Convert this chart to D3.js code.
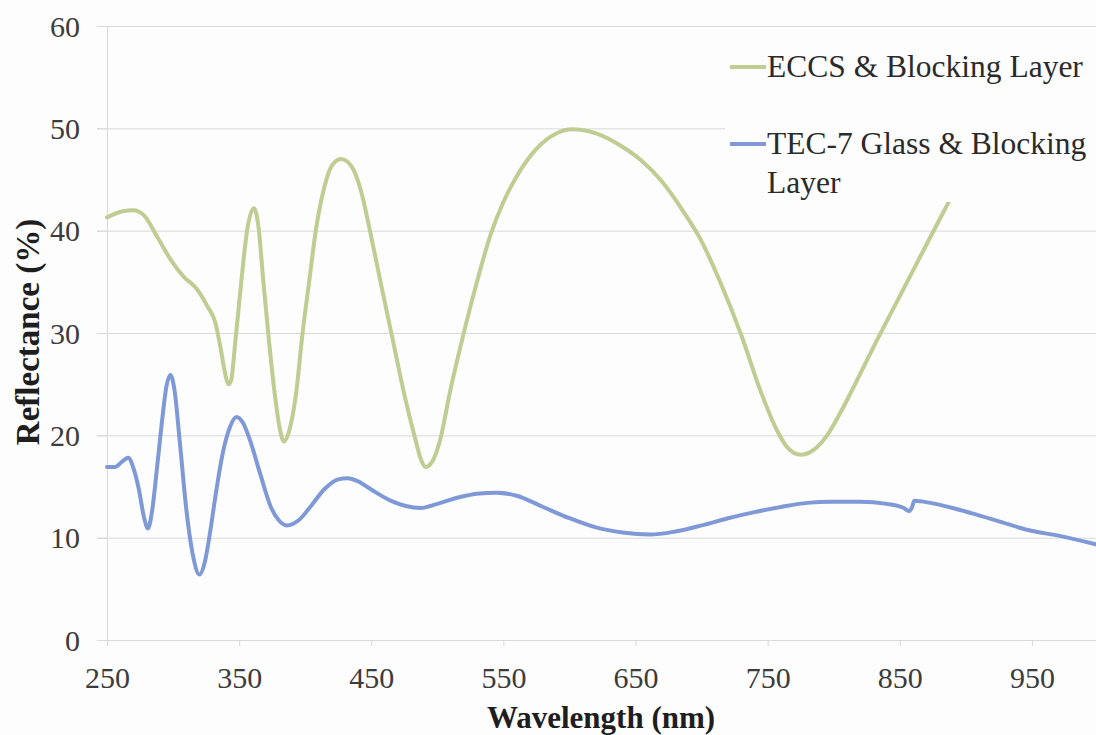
<!DOCTYPE html>
<html>
<head>
<meta charset="utf-8">
<script src="https://cdn.jsdelivr.net/npm/d3@7"></script>
<style>
  html, body { margin: 0; padding: 0; background: #fdfdfd; }
  svg { display: block; }
</style>
</head>
<body>
<svg id="chart" width="1096" height="735"></svg>
<script>
// Reflectance spectra (wavelength in nm, reflectance in %)
const eccsWavelength = [250, 262, 270, 278, 288, 298, 308, 318, 326, 332, 336, 339, 342, 344, 347, 352, 356, 361, 365, 368, 372, 377, 381, 384, 388, 393, 398, 403, 408, 414, 420, 427, 435, 442, 449, 457, 466, 475, 483, 488, 491, 496, 502, 510, 520, 530, 540, 550, 560, 575, 590, 602, 620, 640, 654, 670, 684, 699, 714, 730, 745, 757, 765, 775, 785, 795, 805, 815, 830, 850, 870, 885, 900];
const eccsReflectance = [41.3, 41.9, 42.0, 41.5, 39.4, 37.2, 35.5, 34.3, 32.6, 31.0, 28.5, 26.3, 25.0, 25.4, 29.0, 35.5, 40.0, 42.2, 40.0, 35.5, 30.0, 24.0, 20.5, 19.4, 20.5, 24.0, 30.0, 35.0, 40.0, 44.0, 46.3, 47.0, 46.3, 44.0, 40.0, 35.0, 29.5, 24.0, 19.8, 17.5, 16.9, 17.4, 19.5, 24.5, 30.0, 35.0, 39.5, 42.8, 45.3, 48.0, 49.5, 49.9, 49.5, 48.2, 46.9, 44.8, 42.3, 39.2, 35.0, 29.8, 24.2, 20.5, 18.8, 18.1, 18.6, 20.0, 22.2, 24.7, 28.6, 33.6, 38.6, 42.3, 46.0];

const tecWavelength = [250, 256, 262, 266, 270, 274, 278, 281, 284, 288, 292, 295, 298, 301, 305, 310, 315, 320, 324, 328, 332, 338, 343, 348, 353, 358, 366, 374, 380, 386, 395, 405, 415, 425, 432, 440, 450, 465, 487, 500, 515, 530, 545, 560, 580, 600, 620, 640, 661, 680, 700, 720, 740, 760, 780, 798, 820, 840, 853, 857, 859, 861, 873, 890, 904, 925, 947, 970, 1000];
const tecReflectance = [16.9, 16.9, 17.5, 17.8, 16.8, 14.8, 12.0, 10.9, 12.5, 17.0, 21.8, 24.8, 25.9, 24.5, 19.5, 12.8, 8.3, 6.4, 7.6, 10.5, 14.0, 18.5, 20.8, 21.8, 21.2, 19.6, 16.2, 13.0, 11.7, 11.2, 11.7, 13.2, 14.8, 15.7, 15.8, 15.5, 14.7, 13.6, 12.9, 13.3, 13.9, 14.3, 14.4, 14.1, 13.0, 11.9, 11.0, 10.5, 10.3, 10.6, 11.2, 11.9, 12.5, 13.0, 13.4, 13.5, 13.5, 13.3, 12.9, 12.6, 12.9, 13.6, 13.4, 12.9, 12.4, 11.6, 10.75, 10.2, 9.3];

const seriesNames = ["ECCS & Blocking Layer", "TEC-7 Glass & Blocking Layer"];
const xTickValues = [250, 350, 450, 550, 650, 750, 850, 950];
const yTickValues = [0, 10, 20, 30, 40, 50, 60];

// pick the first installed Times-like face
function pickSerif() {
  const ctx = document.createElement("canvas").getContext("2d");
  const sample = "Reflectance Wavelength 0123456789 &";
  const widthOf = f => { ctx.font = "40px " + f; return ctx.measureText(sample).width; };
  const baseMono = widthOf("monospace");
  const baseSans = widthOf("sans-serif");
  const candidates = ["Liberation Serif", "Tinos", "Times New Roman", "Times", "Nimbus Roman", "Nimbus Roman No9 L", "FreeSerif", "DejaVu Serif", "Noto Serif"];
  for (const name of candidates) {
    const a = widthOf(`"${name}", monospace`);
    const b = widthOf(`"${name}", sans-serif`);
    if (a !== baseMono && b !== baseSans && Math.abs(a - b) < 0.01) return `"${name}"`;
  }
  return "serif";
}
const serif = pickSerif();

const svg = d3.select("#chart");
const plotLeft = 107, plotRight = 1098, plotTop = 26, plotBottom = 640;

const x = d3.scaleLinear().domain([250, 1000]).range([plotLeft, plotRight]);
const y = d3.scaleLinear().domain([0, 60]).range([plotBottom, plotTop]);

const gridColor = "#d9d9d9";
const labelColor = "#3c3c3c";

// horizontal gridlines
svg.append("g")
  .selectAll("line")
  .data(yTickValues.filter(d => d > 0))
  .join("line")
  .attr("x1", plotLeft - 10).attr("x2", 1096)
  .attr("y1", d => y(d) + 0.5).attr("y2", d => y(d) + 0.5)
  .attr("stroke", gridColor).attr("stroke-width", 1);

// y axis
const yAxis = svg.append("g")
  .attr("transform", `translate(${plotLeft},0)`)
  .call(d3.axisLeft(y).tickValues(yTickValues).tickSize(10).tickPadding(17));
yAxis.attr("font-family", serif);
yAxis.select(".domain").attr("stroke", gridColor);
yAxis.selectAll(".tick line").attr("stroke", gridColor);
yAxis.selectAll("text")
  .attr("font-size", 30).attr("fill", labelColor).attr("dy", "0.34em");

// x axis
const xAxis = svg.append("g")
  .attr("transform", `translate(0,${plotBottom})`)
  .call(d3.axisBottom(x).tickValues(xTickValues).tickSize(6).tickPadding(31).tickFormat(d3.format("d")));
xAxis.attr("font-family", serif);
xAxis.select(".domain").attr("stroke", gridColor).attr("d", `M${plotLeft - 10},0.5H1096`);
xAxis.selectAll(".tick line").attr("stroke", gridColor);
xAxis.selectAll("text")
  .attr("font-size", 30).attr("fill", labelColor).attr("dy", "0.35em");

// axis titles
svg.append("text")
  .attr("x", 601).attr("y", 728)
  .attr("text-anchor", "middle")
  .attr("font-family", serif).attr("font-size", 31).attr("font-weight", "bold")
  .attr("fill", "#1e1e1e")
  .text("Wavelength (nm)");

svg.append("text")
  .attr("transform", "translate(39,332) rotate(-90)")
  .attr("text-anchor", "middle")
  .attr("font-family", serif).attr("font-size", 33).attr("font-weight", "bold")
  .attr("fill", "#1e1e1e")
  .text("Reflectance (%)");

// spectra
const line = d3.line()
  .x(d => x(d[0])).y(d => y(d[1]))
  .curve(d3.curveMonotoneX);

const eccs = eccsWavelength.map((w, i) => [w, eccsReflectance[i]]);
const tec = tecWavelength.map((w, i) => [w, tecReflectance[i]]);

const seriesColors = ["#bfcc92", "#7f99d7"];

const plot = svg.append("g");
[eccs, tec].forEach((data, i) => {
  plot.append("path").datum(data)
    .attr("d", line).attr("fill", "none")
    .attr("stroke", seriesColors[i]).attr("stroke-width", 4)
    .attr("stroke-linejoin", "round").attr("stroke-linecap", "round");
});

// legend (opaque box drawn over the plot)
const legend = svg.append("g").attr("font-family", serif);
legend.append("rect")
  .attr("x", 725).attr("y", 36).attr("width", 380).attr("height", 166)
  .attr("fill", "#fdfdfd");

const legendRows = [67, 144];
legendRows.forEach((ly, i) => {
  legend.append("line")
    .attr("x1", 730).attr("x2", 766).attr("y1", ly).attr("y2", ly)
    .attr("stroke", seriesColors[i]).attr("stroke-width", 4);
});
legend.append("text")
  .attr("x", 767).attr("y", legendRows[0] + 10)
  .attr("font-size", 31.5).attr("fill", "#2a2a2a")
  .text(seriesNames[0]);
const t2 = legend.append("text")
  .attr("font-size", 31.5).attr("fill", "#2a2a2a");
t2.append("tspan").attr("x", 767).attr("y", legendRows[1] + 10).text("TEC-7 Glass & Blocking");
t2.append("tspan").attr("x", 767).attr("y", legendRows[1] + 49).text("Layer");
</script>
</body>
</html>
